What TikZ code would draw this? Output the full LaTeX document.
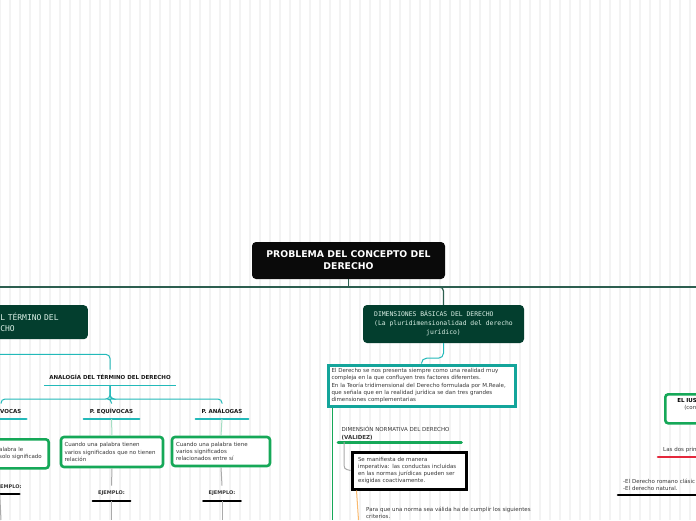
\documentclass[tikz,border=0pt]{standalone}
\usepackage{fontspec}
\setmainfont{DejaVu Sans}
\setmonofont{DejaVu Sans Mono}
\definecolor{rootblack}{RGB}{10,10,10}
\definecolor{deepgreen}{RGB}{3,62,46}
\definecolor{railgreen}{RGB}{45,95,80}
\definecolor{turq}{RGB}{35,185,185}
\definecolor{tealbox}{RGB}{20,165,155}
\definecolor{leafgreen}{RGB}{22,168,88}
\definecolor{paleleaf}{RGB}{165,222,195}
\definecolor{inkgray}{RGB}{55,55,55}
\definecolor{inkblack}{RGB}{25,25,25}
\definecolor{linegray}{RGB}{170,170,170}
\definecolor{mint}{RGB}{218,240,230}
\definecolor{orangeline}{RGB}{250,185,110}
\definecolor{redline}{RGB}{228,40,60}
\definecolor{gridgray}{RGB}{243,243,243}
\begin{document}
\begin{tikzpicture}[x=1pt,y=-1pt,
  rootbox/.style={fill=rootblack,rounded corners=4pt,text=white,align=center,
    font=\bfseries\fontsize{9.3}{12}\selectfont,minimum width=193pt,minimum height=37pt},
  darkbox/.style={fill=deepgreen,rounded corners=4pt,text=mint,inner xsep=4pt},
  lbl/.style={inner sep=0pt,minimum height=15pt,anchor=south,text=inkblack,
    font=\bfseries\fontsize{5.5}{7}\selectfont},
  leafbox/.style={draw=leafgreen,line width=2.6pt,rounded corners=3pt,fill=white,
    text=inkgray,align=left,font=\fontsize{5.5}{7.2}\selectfont},
  plaintext/.style={text=inkgray,align=left,font=\fontsize{5.5}{7.2}\selectfont},
  underbar/.style={line width=2.6pt,line cap=round},
  wire/.style={line width=1pt},
  rail/.style={railgreen,line width=1.2pt}]
\path[use as bounding box] (0,0) rectangle (696,520);
\clip (0,0) rectangle (696,520);
\fill[white] (0,0) rectangle (696,520);
\draw[gridgray,line width=1.5pt,step=10] (0,0) grid (696,520);

\node[rootbox] (root) at (348.5,260.5) {PROBLEMA DEL CONCEPTO DEL\\DERECHO};
\node[darkbox,anchor=north east,text width=190pt,minimum height=34pt,align=left,
  font=\ttfamily\fontsize{8}{11}\selectfont] (term) at (88,305)
  {\hspace*{106.5pt}L TÉRMINO DEL\\\hspace*{106.5pt}CHO};
\node[darkbox,minimum width=161pt,minimum height=38pt,align=center,
  font=\ttfamily\fontsize{6.4}{9}\selectfont] (dim) at (443.5,324)
  {\begin{tabular}{@{}l@{}}DIMENSIONES BÁSICAS DEL DERECHO\\(La pluridimensionalidad del derecho\\\multicolumn{1}{@{}c@{}}{jurídico)}\end{tabular}};

\coordinate (railw) at (0,287);
\coordinate (raile) at (696,287);
\draw[rail] (root.south) -- (root.south |- raile);
\draw[rail] (railw) -- (raile);
\draw[rail,rounded corners=4pt] (root.south |- raile) -| (dim.north);
\draw[rail,rounded corners=4pt] (root.south |- railw) -| (term.north);

\node[lbl,minimum width=132pt] (anal) at (110,385) {ANALOGÍA DEL TÉRMINO DEL DERECHO};
\node[lbl,anchor=south west,text width=26pt,align=left] (univ) at (0,419) {VOCAS};
\node[lbl,minimum width=55pt] (equi) at (111.5,419) {P. EQUÍVOCAS};
\node[lbl,minimum width=52pt] (anlg) at (222,419) {P. ANÁLOGAS};
\draw[wire,turq] (anal.south west) -- (anal.south east);
\draw[underbar,turq] (univ.south west) -- (univ.south east);
\draw[underbar,turq] (equi.south west) -- (equi.south east);
\draw[underbar,turq] (anlg.south west) -- (anlg.south east);
\draw[wire,turq,rounded corners=4pt] (term.south) -- ++(0,15) -| (anal.north);
\draw[wire,turq,rounded corners=4pt] (anal.south) -- ++(0,14) -| (equi.north);
\draw[wire,turq,rounded corners=4pt] (anal.south) -- ++(0,14) -| (anlg.north);
\draw[wire,turq,rounded corners=4pt] (anal.south) -- ++(0,14) -| ([xshift=1pt]univ.north west);

\node[leafbox,anchor=north east,text width=95pt,inner xsep=1.5pt,minimum height=29pt] (univbox) at (50,438)
  {\hspace*{47pt}alabra le\\\hspace*{47pt}solo significado};
\node[leafbox,text width=95pt,inner xsep=3.5pt,minimum height=30pt] (equibox) at (112,452)
  {Cuando una palabra tienen\\varios significados que no tienen\\relación};
\node[leafbox,text width=90pt,inner xsep=4pt,minimum height=29pt] (anlgbox) at (221,451.5)
  {Cuando una palabra tiene\\varios significados\\relacionados entre sí};
\draw[wire,paleleaf] (univbox.north) -- (univbox.north |- univ.south);
\draw[wire,paleleaf] (equi.south) -- (equibox.north);
\draw[wire,paleleaf] (anlg.south) -- (anlgbox.north);

\node[lbl,anchor=south west,text width=19pt,align=left,text=inkgray,
  font=\bfseries\fontsize{5}{6}\selectfont] (ejuniv) at (0,494) {EMPLO:};
\node[lbl,minimum width=37pt,text=inkgray,font=\bfseries\fontsize{5}{6}\selectfont] (ejequi) at (111.5,501) {EJEMPLO:};
\node[lbl,minimum width=37pt,text=inkgray,font=\bfseries\fontsize{5}{6}\selectfont] (ejanlg) at (222,501) {EJEMPLO:};
\draw[underbar,black] (ejuniv.south west) -- (ejuniv.south east);
\draw[underbar,black] (ejequi.south west) -- (ejequi.south east);
\draw[underbar,black] (ejanlg.south west) -- (ejanlg.south east);
\coordinate (univend) at (1,520);
\coordinate (equiend) at (111.5,520);
\coordinate (anlgend) at (222,520);
\draw[wire,linegray] (univbox.south) -- (univbox.south |- ejuniv.north);
\draw[wire,linegray] (univbox.south |- ejuniv.south) -- (univend);
\draw[wire,linegray] (equibox.south) -- (ejequi.north);
\draw[wire,linegray] (ejequi.south) -- (equiend);
\draw[wire,linegray] (anlgbox.south) -- (ejanlg.north);
\draw[wire,linegray] (ejanlg.south) -- (anlgend);

\node[draw=tealbox,line width=3pt,fill=white,plaintext,text width=180pt,inner xsep=3.5pt,
  minimum height=41pt] (intro) at (421.5,385.5)
  {El Derecho se nos presenta siempre como una realidad muy\\compleja en la que confluyen tres factores diferentes.\\En la Teoría tridimensional del Derecho formulada por M.Reale,\\que señala que en la realidad jurídica se dan tres grandes\\dimensiones complementarias};
\draw[wire,turq,rounded corners=5pt] (dim.south) -- ++(0,15) -| (intro.north);
\coordinate (dimend) at (332,520);
\draw[wire,leafgreen] (dimend |- intro.south) -- (dimend);

\node[plaintext,anchor=south west,text width=116pt,inner xsep=3.5pt,inner ysep=2pt] (norm) at (338,442)
  {DIMENSIÓN NORMATIVA DEL DERECHO\\\textbf{(VALIDEZ)}};
\draw[underbar,leafgreen,line width=3pt] (norm.south west) -- (norm.south east);
\node[draw=black,line width=3pt,fill=white,plaintext,text width=102pt,inner xsep=6pt,
  minimum height=37pt,font=\fontsize{5.5}{7}\selectfont] (imper) at (409,470.5)
  {Se manifiesta de manera\\imperativa: las conductas incluidas\\en las normas jurídicas pueden ser\\exigidas coactivamente.};
\draw[wire,linegray] ([xshift=6pt]norm.south west) -- ++(0,19) .. controls +(0,8) .. (imper.west);
\node[plaintext,anchor=west,inner sep=1pt] (crit) at (365,513)
  {Para que una norma sea válida ha de cumplir los siguientes\\criterios.};
\coordinate (critend) at (358.5,520);
\draw[wire,orangeline] ([xshift=6pt]imper.south west) -- (critend);

\node[leafbox,anchor=north west,text width=60pt,inner xsep=4pt,minimum height=29pt,
  font=\fontsize{5.5}{7}\selectfont] (ius) at (664,393)
  {\hspace*{8pt}\textcolor{black}{\textbf{EL IUS}}\\\hspace*{15pt}(con\\\strut};
\node[plaintext,anchor=south west,text width=45pt,inner xsep=5pt,minimum height=14pt] (dos) at (658,457) {Las dos prin};
\draw[underbar,redline] (dos.south west) -- (dos.south east);
\node[plaintext,anchor=south west,text width=80pt,inner xsep=5pt,minimum height=19pt,
  font=\fontsize{5.5}{7}\selectfont] (roman) at (618,495) {-El Derecho romano clásic\\-El derecho natural.};
\draw[underbar,black] (roman.south west) -- (roman.south east);
\end{tikzpicture}
\end{document}
